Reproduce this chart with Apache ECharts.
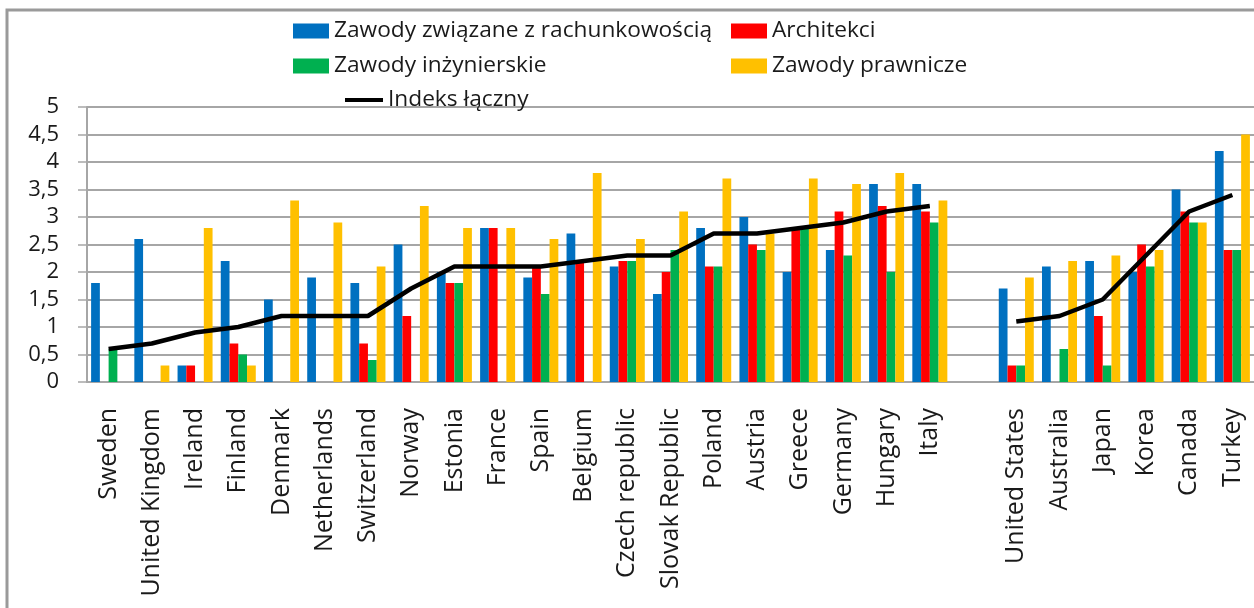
<!DOCTYPE html>
<html>
<head>
<meta charset="utf-8">
<script src="https://cdn.jsdelivr.net/npm/echarts@6/dist/echarts.min.js"></script>
<style>
    html, body { margin: 0; padding: 0; background: #fff; }
    #chart { width: 1254px; height: 608px; }
</style>
</head>
<body>
<div id="chart"></div>
<script>
// kraje (pusta kategoria = przerwa miedzy Europa a reszta)
var countries = ["Sweden", "United Kingdom", "Ireland", "Finland", "Denmark", "Netherlands", "Switzerland",
    "Norway", "Estonia", "France", "Spain", "Belgium", "Czech republic", "Slovak Republic", "Poland",
    "Austria", "Greece", "Germany", "Hungary", "Italy", "",
    "United States", "Australia", "Japan", "Korea", "Canada", "Turkey"];

var accounting = [1.8, 2.6, 0.3, 2.2, 1.5, 1.9, 1.8, 2.5, 2.0, 2.8, 1.9, 2.7, 2.1, 1.6, 2.8,
    3.0, 2.0, 2.4, 3.6, 3.6, null, 1.7, 2.1, 2.2, 2.0, 3.5, 4.2];
var architects = [null, null, 0.3, 0.7, null, null, 0.7, 1.2, 1.8, 2.8, 2.1, 2.2, 2.2, 2.0, 2.1,
    2.5, 2.8, 3.1, 3.2, 3.1, null, 0.3, null, 1.2, 2.5, 3.1, 2.4];
var engineering = [0.6, null, null, 0.5, null, null, 0.4, null, 1.8, null, 1.6, null, 2.2, 2.4, 2.1,
    2.4, 2.8, 2.3, 2.0, 2.9, null, 0.3, 0.6, 0.3, 2.1, 2.9, 2.4];
var legal = [null, 0.3, 2.8, 0.3, 3.3, 2.9, 2.1, 3.2, 2.8, 2.8, 2.6, 3.8, 2.6, 3.1, 3.7,
    2.7, 3.7, 3.6, 3.8, 3.3, null, 1.9, 2.2, 2.3, 2.4, 2.9, 4.5];
var totalIndex = [0.6, 0.7, 0.9, 1.0, 1.2, 1.2, 1.2, 1.7, 2.1, 2.1, 2.1, 2.2, 2.3, 2.3, 2.7,
    2.7, 2.8, 2.9, 3.1, 3.2, null, 1.1, 1.2, 1.5, 2.3, 3.1, 3.4];

var seriesNames = ["Zawody związane z rachunkowością", "Architekci", "Zawody inżynierskie", "Zawody prawnicze", "Indeks łączny"];
var colors = ["#0070C0", "#FF0000", "#00B050", "#FFC000", "#000000"];

var FONT = "Open Sans";
var GRAY = "#a6a6a6";

function makeLegend(name, left, top) {
    let isLine = name == seriesNames[4];
    return {
        data: [name],
        left: left,
        top: top,
        padding: 0,
        icon: "rect",
        itemWidth: isLine ? 38 : 36,
        itemHeight: isLine ? 4 : 15,
        selectedMode: false,
        textStyle: {fontFamily: FONT, fontSize: 22.7, color: "#1a1a1a", lineHeight: 26}
    };
}

function makeBar(i, data) {
    return {
        name: seriesNames[i],
        type: "bar",
        data: data,
        barGap: 0,
        barCategoryGap: "19%",
        itemStyle: {color: colors[i]}
    };
}

var chart = echarts.init(document.getElementById("chart"));

var option = {
    animation: false,
    graphic: [{
        type: "rect",
        shape: {x: 7, y: 10, width: 1270, height: 640},
        style: {fill: "none", stroke: "#9a9a9a", lineWidth: 3},
        silent: true
    }],
    legend: [
        makeLegend(seriesNames[0], 293, 18),
        makeLegend(seriesNames[1], 731, 18),
        makeLegend(seriesNames[2], 293, 53),
        makeLegend(seriesNames[3], 731, 53),
        makeLegend(seriesNames[4], 345, 87)
    ],
    grid: {left: 87, right: -4, top: 107, bottom: 226},
    xAxis: {
        type: "category",
        data: countries,
        axisLine: {lineStyle: {color: GRAY, width: 2}},
        axisTick: {length: 10, lineStyle: {color: GRAY, width: 1.5}},
        axisLabel: {
            rotate: 90,
            margin: 26,
            interval: 0,
            fontFamily: FONT,
            fontSize: 25,
            color: "#1a1a1a"
        }
    },
    yAxis: {
        type: "value",
        min: 0,
        max: 5,
        interval: 0.5,
        axisLine: {show: true, lineStyle: {color: GRAY, width: 2}},
        axisTick: {show: true, length: 9, lineStyle: {color: GRAY, width: 1.5}},
        splitLine: {lineStyle: {color: GRAY, width: 2}},
        axisLabel: {
            margin: 28,
            fontFamily: FONT,
            fontSize: 22,
            color: "#1a1a1a",
            formatter: function (v) {
                return String(v).replace(".", ",");
            }
        }
    },
    series: [
        makeBar(0, accounting),
        makeBar(1, architects),
        makeBar(2, engineering),
        makeBar(3, legal),
        {
            name: seriesNames[4],
            type: "line",
            data: totalIndex,
            symbol: "none",
            connectNulls: false,
            lineStyle: {color: colors[4], width: 4.5},
            itemStyle: {color: colors[4]},
            z: 5
        }
    ]
};

chart.setOption(option);
</script>
</body>
</html>
